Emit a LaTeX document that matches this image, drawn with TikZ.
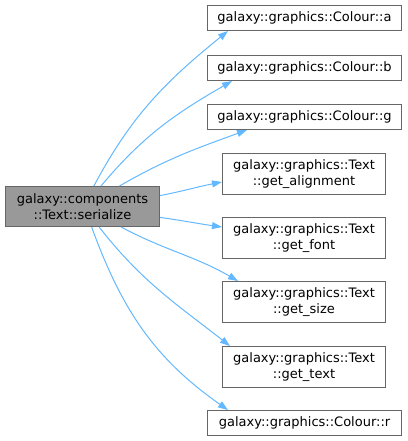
\documentclass[tikz,border=0pt]{standalone}
\usepackage{fontspec}
\setmainfont{DejaVu Sans}
\usetikzlibrary{arrows.meta}
\definecolor{edgeblue}{HTML}{63B8FF}
\definecolor{boxgray}{HTML}{999999}
\definecolor{rimgray}{HTML}{666666}
\begin{document}
\begin{tikzpicture}[x=1pt,y=1pt,
  fn/.style={draw=rimgray,line width=1pt,fill=white,anchor=north west,
    align=center,inner sep=2pt,font=\fontsize{13}{15.5}\selectfont},
  call/.style={draw=edgeblue,line width=1pt,-{Triangle[length=10pt,width=7pt]}}]
  \useasboundingbox (0,0) rectangle (407,-441);
  % the caller
  \node[fn,fill=boxgray,minimum width=154,minimum height=40] (src) at (5,-186)
    {galaxy::components\\::Text::serialize};
  % the callees
  \node[fn,minimum width=194,minimum height=25] (ca) at (207,-5) {galaxy::graphics::Colour::a};
  \node[fn,minimum width=194,minimum height=25] (cb) at (207,-55) {galaxy::graphics::Colour::b};
  \node[fn,minimum width=194,minimum height=25] (cg) at (207,-104) {galaxy::graphics::Colour::g};
  \node[fn,minimum width=163,minimum height=41] (tal) at (222,-153) {galaxy::graphics::Text\\::get\_alignment};
  \node[fn,minimum width=163,minimum height=41] (tfo) at (222,-217) {galaxy::graphics::Text\\::get\_font};
  \node[fn,minimum width=163,minimum height=41] (tsi) at (222,-281) {galaxy::graphics::Text\\::get\_size};
  \node[fn,minimum width=163,minimum height=41] (tte) at (222,-346) {galaxy::graphics::Text\\::get\_text};
  \node[fn,minimum width=194,minimum height=25] (cr) at (207,-410) {galaxy::graphics::Colour::r};
  % calls
  \draw[call] (src.61) to[out=62,in=219] ([xshift=21pt]ca.south west);
  \draw[call] (src.48) to[out=50,in=210] ([xshift=25pt]cb.south west);
  \draw[call] (src.29) to[out=30,in=200] ([xshift=40pt]cg.south west);
  \draw[call] (src.8) to[out=11,in=191] ([yshift=-8pt]tal.west);
  \draw[call] (src.-8) to[out=-8,in=172] ([yshift=11pt]tfo.west);
  \draw[call] (src.-28) to[out=-28,in=150] ([xshift=16pt]tsi.north west);
  \draw[call] (src.-51) to[out=-52,in=142] ([xshift=8pt]tte.north west);
  \draw[call] (src.-66) to[out=-70,in=145] ([xshift=21pt]cr.north west);
\end{tikzpicture}
\end{document}
